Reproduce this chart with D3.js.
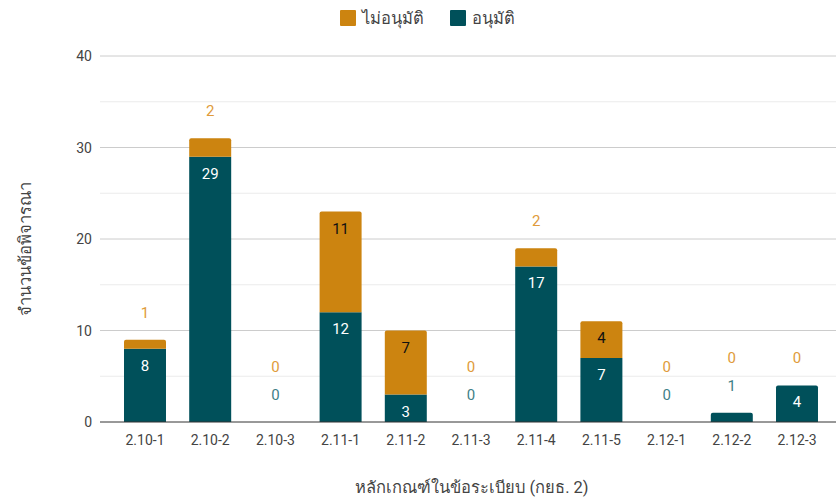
<!DOCTYPE html>
<html><head><meta charset="utf-8">
<script src="https://cdn.jsdelivr.net/npm/d3@7"></script>
<style>body{margin:0;background:#fff;font-family:Roboto,"Noto Sans",sans-serif;}</style>
</head><body>
<svg id="c" width="839" height="501"></svg>
<script>
const categories = ["2.10-1","2.10-2","2.10-3","2.11-1","2.11-2","2.11-3","2.11-4","2.11-5","2.12-1","2.12-2","2.12-3"];
const approved = [8,29,0,12,3,0,17,7,0,1,4];
const rejected = [1,2,0,11,7,0,2,4,0,0,0];
const yTicks = [0,10,20,30,40];
const seriesNames = ["ไม่อนุมัติ","อนุมัติ"];
const xTitle = "หลักเกณฑ์ในข้อระเบียบ (กยธ. 2)";
const yTitle = "จำนวนข้อพิจารณา";

const cOrange = "#cc8410", cTeal = "#00505a";
const cOrangeLbl = "#e09b3a", cTealLbl = "#3f7f88";

const svg = d3.select("#c");
const x = d3.scaleBand().domain(categories).range([112.4, 829.6]).paddingInner(0.356).paddingOuter(0.178);
const y = d3.scaleLinear().domain([0,40]).range([422,56]);
const L = 100, R = 836;

// gridlines
const minor = d3.range(5,40,10);
svg.append("g").selectAll("line.m").data(minor).join("line")
  .attr("x1",L).attr("x2",R).attr("y1",d=>y(d)).attr("y2",d=>y(d)).attr("stroke","#ebebeb");
svg.append("g").selectAll("line.M").data(yTicks.filter(d=>d>0)).join("line")
  .attr("x1",L).attr("x2",R).attr("y1",d=>y(d)).attr("y2",d=>y(d)).attr("stroke","#cccccc");

// y labels
svg.append("g").selectAll("text").data(yTicks).join("text")
  .attr("x",92).attr("y",d=>y(d)+5).attr("text-anchor","end")
  .attr("font-size",14).attr("fill","#444").text(d=>d);

const data = categories.map((c,i)=>({c, a:approved[i], r:rejected[i]}));
const bw = x.bandwidth();

function roundTop(x0, y0, w, h, r){
  if (h<=0) return "";
  r = Math.min(r, h, w/2);
  return `M${x0},${y0+h}V${y0+r}Q${x0},${y0} ${x0+r},${y0}H${x0+w-r}Q${x0+w},${y0} ${x0+w},${y0+r}V${y0+h}Z`;
}

const g = svg.append("g");
data.forEach(d=>{
  const x0 = x(d.c);
  const total = d.a + d.r;
  if (d.a>0){
    const top = y(d.a);
    g.append("path").attr("d", d.r>0 ? `M${x0},${y(0)}V${top}H${x0+bw}V${y(0)}Z` : roundTop(x0, top, bw, y(0)-top, 2)).attr("fill",cTeal);
  }
  if (d.r>0){
    const top = y(total);
    g.append("path").attr("d", roundTop(x0, top, bw, y(d.a)-top, 2)).attr("fill",cOrange);
  }
});

// labels
const lg = svg.append("g").attr("font-size",15).attr("text-anchor","middle");
data.forEach(d=>{
  const cx = x(d.c)+bw/2;
  const total = d.a + d.r;
  let aboveY = y(d.a);
  const segA = y(0)-y(d.a);
  if (segA >= 24){
    lg.append("text").attr("x",cx).attr("y",y(d.a)+17+5).attr("fill","#fff").text(d.a);
  } else {
    lg.append("text").attr("x",cx).attr("y",y(d.a)-27+5).attr("fill",cTealLbl).text(d.a);
    aboveY = y(d.a)-28;
  }
  const segR = y(d.a)-y(total);
  if (segR >= 24){
    lg.append("text").attr("x",cx).attr("y",y(total)+17+5).attr("fill","#111").text(d.r);
  } else {
    const base = d.r>0 ? y(total) : aboveY;
    lg.append("text").attr("x",cx).attr("y",base-27+5).attr("fill",cOrangeLbl).text(d.r);
  }
});

// baseline
svg.append("line").attr("x1",L).attr("x2",R).attr("y1",y(0)).attr("y2",y(0)).attr("stroke","#333");

// x labels
svg.append("g").selectAll("text").data(categories).join("text")
  .attr("x",d=>x(d)+bw/2).attr("y",445).attr("text-anchor","middle")
  .attr("font-size",14).attr("fill","#444").text(d=>d);

// titles
svg.append("text").attr("x",472).attr("y",493).attr("text-anchor","middle")
  .attr("font-size",16.5).attr("fill","#444").text(xTitle);
svg.append("text").attr("transform","translate(31,249) rotate(-90)").attr("text-anchor","middle")
  .attr("font-size",16.5).attr("fill","#444").text(yTitle);

// legend
const leg = svg.append("g");
const legItems = [{n:seriesNames[0], c:cOrange, x:340},{n:seriesNames[1], c:cTeal, x:450}];
legItems.forEach(it=>{
  leg.append("rect").attr("x",it.x).attr("y",10).attr("width",16).attr("height",16).attr("rx",1).attr("fill",it.c);
  leg.append("text").attr("x",it.x+22).attr("y",24).attr("font-size",16.5).attr("fill","#444").text(it.n);
});
</script>
</body></html>
